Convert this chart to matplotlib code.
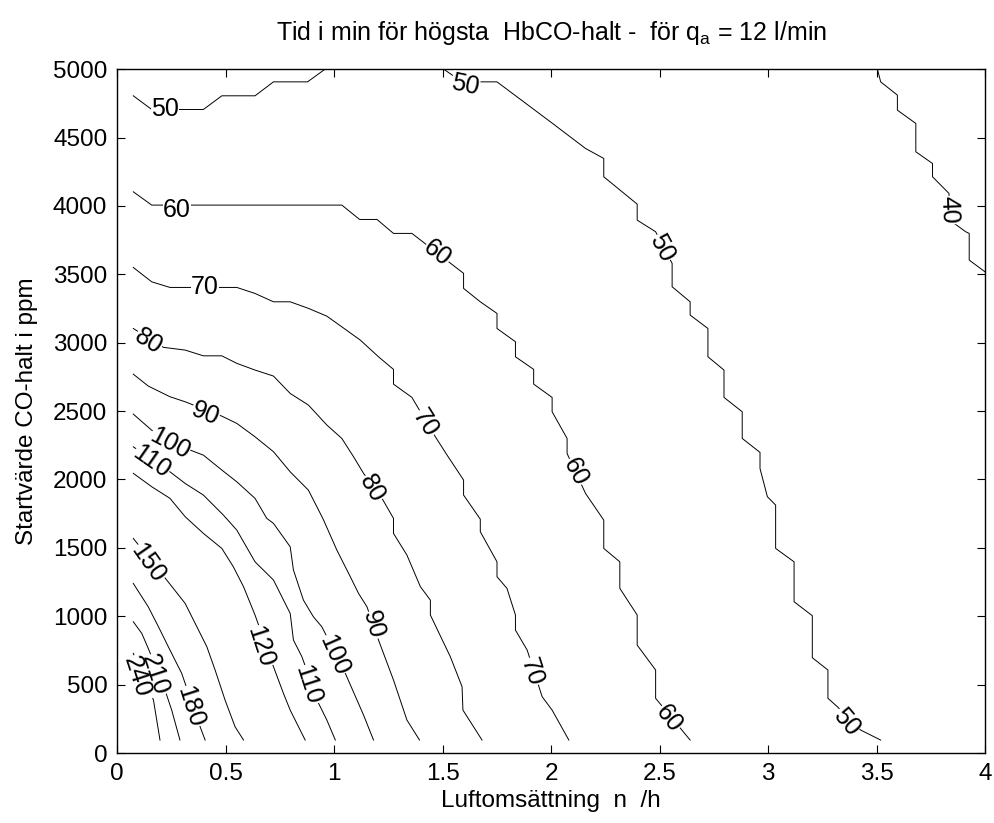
import matplotlib
matplotlib.use('Agg')
import matplotlib.pyplot as plt

plt.rcParams['font.family'] = ['Liberation Sans', 'DejaVu Sans']
plt.rcParams['mathtext.fontset'] = 'custom'
plt.rcParams['mathtext.rm'] = 'Liberation Sans'
plt.rcParams['mathtext.it'] = 'Liberation Sans'

# contour lines: level -> (n values, start CO ppm values)
levels = [40, 50, 50, 60, 70, 80, 90, 100, 110, 120, 150, 180, 210, 240]

c40_x = [3.504, 3.519, 3.596, 3.596, 3.681, 3.681, 3.758, 3.758, 3.834, 3.834,
         3.911, 3.927, 3.927, 4.0]
c40_y = [5000, 4907, 4810, 4700, 4603, 4396, 4310, 4213, 4091, 3900,
         3811, 3799, 3604, 3518]

c50a_x = [0.075, 0.16, 0.398, 0.483, 0.636, 0.721, 0.878, 0.959]
c50a_y = [4805, 4705, 4705, 4805, 4805, 4907, 4907, 5000]

c50b_x = [1.505, 1.59, 1.751, 1.997, 2.159, 2.243, 2.243, 2.397, 2.397, 2.482,
          2.558, 2.558, 2.641, 2.641, 2.723, 2.723, 2.797, 2.797, 2.881, 2.881,
          2.963, 2.963, 2.997, 3.035, 3.035, 3.12, 3.12, 3.204, 3.204, 3.276,
          3.276, 3.32, 3.427, 3.519]
c50b_y = [5000, 4907, 4907, 4615, 4420, 4347, 4213, 4013, 3896, 3811,
          3580, 3409, 3299, 3202, 3104, 2897, 2800, 2600, 2495, 2300,
          2198, 2080, 1874, 1813, 1496, 1398, 1106, 1004, 697, 607,
          400, 338, 168, 95]

c60_x = [0.075, 0.16, 0.398, 1.036, 1.118, 1.198, 1.274, 1.359, 1.597, 1.597,
         1.674, 1.751, 1.751, 1.836, 1.836, 1.92, 1.92, 2.005, 2.005, 2.074,
         2.074, 2.159, 2.243, 2.243, 2.317, 2.317, 2.397, 2.397, 2.482, 2.482,
         2.641]
c60_y = [4103, 4006, 4006, 4006, 3901, 3901, 3799, 3799, 3507, 3397,
         3299, 3214, 3104, 3007, 2897, 2805, 2697, 2600, 2495, 2300,
         2190, 1898, 1703, 1496, 1398, 1204, 1009, 789, 607, 400,
         95]

c70_x = [0.075, 0.16, 0.244, 0.552, 0.636, 0.721, 0.798, 0.882, 0.967, 1.036,
         1.121, 1.205, 1.274, 1.274, 1.359, 1.398, 1.467, 1.521, 1.597, 1.597,
         1.674, 1.674, 1.751, 1.751, 1.797, 1.836, 1.836, 1.89, 1.959, 2.005,
         2.082]
c70_y = [3550, 3445, 3404, 3404, 3360, 3299, 3299, 3251, 3194, 3116,
         3019, 2897, 2805, 2697, 2600, 2495, 2312, 2178, 1996, 1886,
         1710, 1618, 1398, 1289, 1204, 1009, 899, 753, 412, 314,
         95]

c80_x = [0.075, 0.214, 0.314, 0.398, 0.483, 0.552, 0.636, 0.721, 0.798, 0.882,
         0.967, 1.036, 1.09, 1.136, 1.221, 1.274, 1.274, 1.336, 1.398, 1.444,
         1.444, 1.536, 1.59, 1.594, 1.682]
c80_y = [3104, 2966, 2946, 2904, 2904, 2849, 2800, 2756, 2629, 2544,
         2398, 2300, 2166, 2045, 1862, 1716, 1606, 1447, 1216, 1118,
         1009, 704, 485, 314, 95]

c90_x = [0.075, 0.144, 0.244, 0.314, 0.483, 0.552, 0.636, 0.721, 0.798, 0.882,
         0.95, 1.013, 1.075, 1.113, 1.152, 1.205, 1.274, 1.336, 1.394]
c90_y = [2770, 2683, 2605, 2568, 2463, 2410, 2312, 2203, 2056, 1922,
         1710, 1484, 1289, 1167, 1069, 826, 534, 241, 95]

c100_x = [0.075, 0.16, 0.337, 0.398, 0.483, 0.552, 0.636, 0.69, 0.721, 0.798,
          0.813, 0.859, 0.905, 0.944, 1.052, 1.136, 1.182]
c100_y = [2478, 2360, 2215, 2178, 2069, 1983, 1862, 1716, 1679, 1508,
          1338, 1118, 996, 923, 583, 278, 95]

c110_x = [0.075, 0.244, 0.314, 0.398, 0.49, 0.552, 0.636, 0.721, 0.798, 0.813,
          0.852, 0.929, 0.967, 1.006]
c110_y = [2239, 2056, 1971, 1886, 1740, 1630, 1398, 1265, 1021, 826,
          704, 363, 241, 95]

c120_x = [0.075, 0.16, 0.244, 0.314, 0.398, 0.483, 0.536, 0.583, 0.636, 0.721,
          0.767, 0.798, 0.867]
c120_y = [2045, 1947, 1862, 1728, 1606, 1496, 1362, 1216, 1009, 631,
          436, 314, 95]

c150_x = [0.075, 0.229, 0.314, 0.368, 0.414, 0.452, 0.498, 0.544, 0.583]
c150_y = [1569, 1265, 1094, 923, 777, 607, 387, 192, 95]

c180_x = [0.075, 0.144, 0.191, 0.244, 0.298, 0.314, 0.383, 0.406]
c180_y = [1240, 1069, 923, 753, 583, 509, 192, 95]

c210_x = [0.075, 0.114, 0.144, 0.221, 0.252, 0.29]
c210_y = [960, 875, 765, 461, 314, 95]

c240_x = [0.075, 0.168, 0.183, 0.198]
c240_y = [729, 387, 241, 95]

lines_x = [c40_x, c50a_x, c50b_x, c60_x, c70_x, c80_x, c90_x, c100_x,
           c110_x, c120_x, c150_x, c180_x, c210_x, c240_x]
lines_y = [c40_y, c50a_y, c50b_y, c60_y, c70_y, c80_y, c90_y, c100_y,
           c110_y, c120_y, c150_y, c180_y, c210_y, c240_y]

# inline labels
label_text = ['50', '50', '50', '50', '40',
              '60', '60', '60', '60',
              '70', '70', '70',
              '80', '80', '90', '90',
              '100', '100', '110', '110',
              '120', '150', '180', '210', '240']
label_x = [0.22, 1.605, 2.51, 3.36, 3.834,
           0.275, 1.475, 2.112, 2.543,
           0.406, 1.421, 1.913,
           0.144, 1.175, 0.406, 1.182,
           0.244, 0.998, 0.16, 0.882,
           0.66, 0.144, 0.337, 0.175, 0.09]
label_y = [4705, 4883, 3690, 229, 3969,
           3969, 3652, 2056, 254,
           3409, 2410, 594,
           3007, 1935, 2478, 936,
           2264, 716, 2131, 497,
           777, 1387, 338, 570, 558]
label_rot = [0, -12, -62, -50, -88,
             0, -38, -62, -52,
             0, -58, -72,
             -32, -60, -22, -75,
             -28, -66, -35, -72,
             -72, -55, -72, -72, -72]

fig = plt.figure(figsize=(9.95, 8.23), dpi=100)
ax = fig.add_axes([0.1176, 0.085, 0.8724, 0.831])

for xs, ys in zip(lines_x, lines_y):
    ax.plot(xs, ys, color='black', linewidth=0.7)

for t, x, y, r in zip(label_text, label_x, label_y, label_rot):
    ax.text(x, y, t, rotation=r, ha='center', va='center', fontsize=18,
            rotation_mode='anchor',
            bbox=dict(facecolor='white', edgecolor='none', pad=0.2))

ax.set_xlim(0, 4)
ax.set_ylim(0, 5000)
ax.set_xticks([0, 0.5, 1, 1.5, 2, 2.5, 3, 3.5, 4])
ax.set_xticklabels(['0', '0.5', '1', '1.5', '2', '2.5', '3', '3.5', '4'])
ax.set_yticks(range(0, 5001, 500))
ax.tick_params(direction='in', length=6, width=0.8, top=True, right=True,
               labelsize=17.5, pad=7)
for s in ax.spines.values():
    s.set_linewidth(1.0)

ax.set_xlabel('Luftomsättning  n  /h', fontsize=17.5, labelpad=4)
ax.set_ylabel('Startvärde CO-halt i ppm', fontsize=17.5, labelpad=11)
ax.set_title('Tid i min för högsta  HbCO-halt -  för q$_a$ = 12 l/min',
             fontsize=18, pad=21)

plt.savefig('out.png', dpi=100)
